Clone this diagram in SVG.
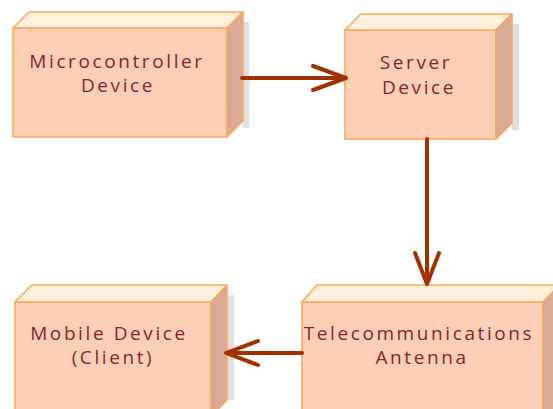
<svg xmlns="http://www.w3.org/2000/svg" width="553" height="409" viewBox="0 0 553 409">
<defs>
<style>
.front{fill:#fdcfb7;stroke:#fba95a;stroke-width:1.6}
.top{fill:#fff0dd;stroke:#fba95a;stroke-width:1.6;stroke-linejoin:round}
.side{fill:#d9aa96;stroke:#fba95a;stroke-width:1.6;stroke-linejoin:round}
.shadow{fill:#e0e0e0}
.lbl{font-family:"Open Sans","Liberation Sans",sans-serif;font-size:19px;fill:#8a1f2e;text-anchor:middle;letter-spacing:2.6px}
.conn{stroke:#a33100;stroke-width:4;fill:none;stroke-linecap:round;stroke-linejoin:round}
</style>
</defs>
<rect width="553" height="409" fill="#ffffff"/>
<g id="microcontroller">
<rect class="shadow" x="243" y="22" width="6" height="106"/>
<rect class="front" x="13" y="28" width="214" height="109"/>
<polygon class="top" points="13,28 29,12 243,12 227,28"/>
<polygon class="side" points="227,28 243,12 243,121 227,137"/>
<text class="lbl" x="117" y="68">Microcontroller</text>
<text class="lbl" x="118" y="92">Device</text>
</g>
<g id="server">
<rect class="shadow" x="512" y="24" width="7" height="106"/>
<rect class="front" x="345" y="30" width="151" height="109"/>
<polygon class="top" points="345,30 361,14 512,14 496,30"/>
<polygon class="side" points="496,30 512,14 512,123 496,139"/>
<text class="lbl" x="416" y="69">Server</text>
<text class="lbl" x="419" y="94">Device</text>
</g>
<g id="mobile">
<rect class="shadow" x="227" y="295" width="7" height="105"/>
<rect class="front" x="15" y="302" width="196" height="120"/>
<polygon class="top" points="15,302 32,285 227,285 211,302"/>
<polygon class="side" points="211,302 227,285 227,400 211,417"/>
<text class="lbl" x="109" y="340">Mobile Device</text>
<text class="lbl" x="113" y="364">(Client)</text>
</g>
<g id="antenna">
<rect class="front" x="302" y="302" width="241" height="120"/>
<polygon class="top" points="302,302 317,285 560,285 543,302"/>
<polygon class="side" points="543,302 560,285 560,420 543,437"/>
<text class="lbl" x="419" y="340">Telecommunications</text>
<text class="lbl" x="422" y="364">Antenna</text>
</g>
<g id="connectors">
<path class="conn" d="M242,78 H346 M313,66 L346,78 L313,90"/>
<path class="conn" d="M427,139 V284 M415,253 L427,284 L439,253"/>
<path class="conn" d="M302,353 H226 M258,341 L226,353 L258,365"/>
</g>
</svg>
